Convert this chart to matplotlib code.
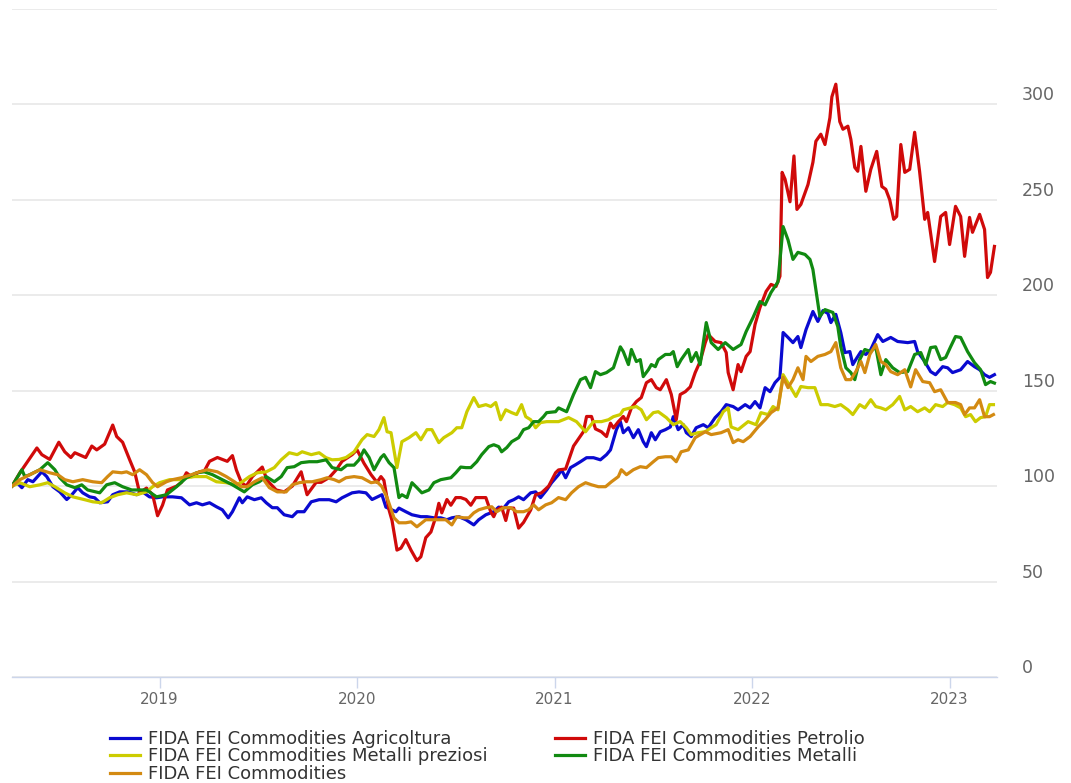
import matplotlib
matplotlib.use("Agg")
import matplotlib.pyplot as plt
from matplotlib.lines import Line2D

# (anno decimale, valore)
agricoltura = [
    (2018.253, 100), (2018.278, 101.8), (2018.303, 99.2), (2018.333, 103.4), (2018.359, 102.3),
    (2018.404, 107.5), (2018.429, 105), (2018.460, 99.7), (2018.495, 97), (2018.530, 93),
    (2018.556, 95.5), (2018.586, 99.2), (2018.611, 96.5), (2018.646, 94.4), (2018.672, 93.9),
    (2018.697, 91.3), (2018.737, 91.8), (2018.763, 95.5), (2018.798, 97), (2018.838, 97),
    (2018.884, 95.5), (2018.914, 97), (2018.949, 94.4), (2018.985, 93.9), (2019.015, 94.4),
    (2019.066, 94.4), (2019.111, 93.9), (2019.152, 90.2), (2019.187, 91.3), (2019.217, 90.2),
    (2019.253, 91.3), (2019.288, 89.2), (2019.318, 87.6), (2019.348, 83.4), (2019.369, 86.6),
    (2019.404, 93.9), (2019.419, 91.3), (2019.444, 94.4), (2019.480, 92.9), (2019.515, 93.9),
    (2019.540, 91.3), (2019.571, 88.7), (2019.596, 88.7), (2019.631, 85), (2019.672, 84),
    (2019.697, 86.6), (2019.732, 86.6), (2019.768, 91.8), (2019.808, 92.9), (2019.859, 92.9),
    (2019.894, 91.8), (2019.924, 93.9), (2019.975, 96.5), (2020.010, 97), (2020.045, 96.5),
    (2020.076, 93), (2020.126, 95.5), (2020.146, 89), (2020.197, 86.6), (2020.212, 88.5),
    (2020.247, 86.6), (2020.278, 85), (2020.323, 84), (2020.354, 84), (2020.389, 83.4),
    (2020.424, 83.4), (2020.455, 82.4), (2020.480, 83.4), (2020.515, 84), (2020.551, 82.4),
    (2020.591, 79.7), (2020.616, 82.4), (2020.652, 85), (2020.692, 86.6), (2020.717, 89),
    (2020.742, 88.5), (2020.768, 91.8), (2020.793, 92.9), (2020.818, 94.4), (2020.843, 92.9),
    (2020.879, 96.5), (2020.904, 97), (2020.929, 94), (2020.960, 98), (2020.985, 101.8),
    (2021.020, 106), (2021.035, 108.6), (2021.056, 104.4), (2021.081, 109.7), (2021.106, 111.2),
    (2021.131, 112.8), (2021.162, 114.9), (2021.197, 114.9), (2021.232, 113.8), (2021.263, 116.5),
    (2021.283, 119), (2021.313, 129.6), (2021.333, 133.8), (2021.348, 128), (2021.374, 130.6),
    (2021.399, 125.4), (2021.424, 129.6), (2021.449, 123.3), (2021.465, 120.7), (2021.490, 128),
    (2021.510, 124.3), (2021.535, 128.5), (2021.561, 129.6), (2021.586, 131), (2021.601, 136.4),
    (2021.626, 129.6), (2021.652, 132.2), (2021.667, 128), (2021.692, 126), (2021.717, 130.6),
    (2021.753, 132.2), (2021.778, 130.6), (2021.813, 135.9), (2021.843, 139), (2021.869, 142.7),
    (2021.904, 141.7), (2021.929, 140), (2021.965, 142.7), (2021.990, 141), (2022.015, 144.3),
    (2022.040, 141), (2022.066, 151.6), (2022.091, 149.5), (2022.116, 154.2), (2022.141, 157),
    (2022.157, 180.5), (2022.182, 177.9), (2022.207, 175.2), (2022.232, 178.4), (2022.247, 172.6),
    (2022.273, 182), (2022.308, 191.5), (2022.333, 186.3), (2022.359, 192), (2022.384, 190.5),
    (2022.399, 185.7), (2022.424, 190), (2022.449, 180.5), (2022.470, 170), (2022.495, 170.5),
    (2022.510, 163.7), (2022.525, 166.3), (2022.551, 170.5), (2022.576, 169), (2022.601, 171.6),
    (2022.636, 179.4), (2022.662, 175.8), (2022.702, 177.9), (2022.737, 175.8), (2022.788, 175.2),
    (2022.823, 175.8), (2022.838, 170.5), (2022.874, 165.3), (2022.904, 160), (2022.929, 158.4),
    (2022.965, 162.6), (2022.990, 162), (2023.015, 159.5), (2023.056, 161), (2023.091, 165.3),
    (2023.126, 162.6), (2023.152, 161), (2023.177, 158.4), (2023.202, 157), (2023.227, 158.4),
]

petrolio = [
    (2018.253, 100), (2018.293, 107), (2018.379, 120), (2018.404, 116.5), (2018.444, 114),
    (2018.490, 123), (2018.520, 118), (2018.551, 115), (2018.571, 117.5), (2018.626, 115),
    (2018.657, 121), (2018.682, 119), (2018.722, 122), (2018.763, 132), (2018.783, 126),
    (2018.813, 123), (2018.848, 114), (2018.874, 107.5), (2018.899, 96.5), (2018.934, 99),
    (2018.965, 95.5), (2018.990, 84.5), (2019.015, 90), (2019.040, 98), (2019.086, 100),
    (2019.111, 102), (2019.136, 107), (2019.162, 105), (2019.202, 107.5), (2019.227, 108),
    (2019.253, 113), (2019.293, 115), (2019.343, 113), (2019.369, 116), (2019.389, 108.5),
    (2019.414, 102), (2019.439, 100), (2019.470, 105), (2019.520, 110), (2019.545, 103),
    (2019.591, 98), (2019.631, 97), (2019.672, 100), (2019.717, 107.5), (2019.747, 95.5),
    (2019.793, 102), (2019.818, 102), (2019.859, 104.5), (2019.894, 108.5), (2019.924, 113),
    (2019.975, 116.5), (2020.000, 119), (2020.035, 112), (2020.071, 106), (2020.101, 102),
    (2020.121, 105), (2020.136, 103), (2020.162, 87.5), (2020.177, 82), (2020.202, 66.5),
    (2020.222, 67.5), (2020.247, 72), (2020.273, 66.5), (2020.303, 61), (2020.323, 63),
    (2020.348, 73), (2020.374, 76), (2020.399, 84), (2020.414, 91), (2020.429, 86),
    (2020.455, 93), (2020.475, 90), (2020.500, 94), (2020.525, 94), (2020.551, 93),
    (2020.576, 90), (2020.601, 94), (2020.652, 94), (2020.677, 86.5), (2020.692, 84),
    (2020.707, 87.5), (2020.732, 89), (2020.753, 82), (2020.768, 88.5), (2020.793, 88.5),
    (2020.818, 78), (2020.843, 81), (2020.879, 87.5), (2020.904, 95.5), (2020.934, 96.5),
    (2020.970, 100), (2021.005, 107), (2021.020, 108.5), (2021.056, 109), (2021.096, 121),
    (2021.146, 128.5), (2021.162, 136.5), (2021.187, 136.5), (2021.207, 130), (2021.237, 128.5),
    (2021.263, 126), (2021.283, 133), (2021.298, 130.5), (2021.323, 133.8), (2021.348, 136.5),
    (2021.364, 133.8), (2021.389, 141), (2021.414, 144.3), (2021.439, 146.4), (2021.465, 154.2),
    (2021.490, 155.8), (2021.515, 151.6), (2021.535, 150.5), (2021.566, 155.8), (2021.591, 148),
    (2021.616, 134.8), (2021.636, 148), (2021.662, 149.5), (2021.687, 152), (2021.712, 159.5),
    (2021.737, 165.3), (2021.763, 175.2), (2021.778, 179.4), (2021.813, 175.8), (2021.843, 175.2),
    (2021.869, 170), (2021.879, 159.5), (2021.904, 150.5), (2021.929, 163.7), (2021.944, 160),
    (2021.970, 168), (2021.990, 170.5), (2022.015, 184.7), (2022.040, 193.6), (2022.071, 202),
    (2022.096, 205.7), (2022.121, 204.6), (2022.141, 210), (2022.152, 264.4), (2022.167, 260.8),
    (2022.192, 249), (2022.212, 273), (2022.227, 245), (2022.247, 247.6), (2022.283, 258),
    (2022.308, 269.7), (2022.323, 280.7), (2022.348, 284.4), (2022.369, 279), (2022.394, 293),
    (2022.404, 304), (2022.424, 310.6), (2022.444, 291), (2022.460, 287), (2022.485, 288.6),
    (2022.500, 281.7), (2022.520, 267), (2022.535, 265), (2022.551, 278), (2022.576, 254.5),
    (2022.601, 266), (2022.631, 275.4), (2022.657, 257), (2022.677, 255.5), (2022.697, 250),
    (2022.717, 239.8), (2022.732, 241.3), (2022.753, 279), (2022.773, 264.4), (2022.798, 266),
    (2022.823, 285.4), (2022.848, 265), (2022.874, 239.8), (2022.889, 243.4), (2022.924, 217.7),
    (2022.955, 241.3), (2022.980, 243.4), (2023.000, 226.6), (2023.030, 246.6), (2023.056, 241.3),
    (2023.076, 220.4), (2023.101, 240.8), (2023.116, 233), (2023.152, 242.4), (2023.177, 234.5),
    (2023.192, 209.3), (2023.207, 212), (2023.227, 225.6),
]

metalli_preziosi = [
    (2018.253, 100), (2018.293, 101.8), (2018.343, 99.7), (2018.394, 100.7), (2018.434, 101.8),
    (2018.470, 99.7), (2018.520, 96.5), (2018.561, 94.4), (2018.621, 92.9), (2018.662, 91.8),
    (2018.707, 91.3), (2018.747, 93.9), (2018.788, 95.5), (2018.833, 96.5), (2018.884, 95.5),
    (2018.934, 97), (2018.965, 99.7), (2019.000, 101.8), (2019.051, 103.4), (2019.101, 103.4),
    (2019.136, 104.4), (2019.177, 105), (2019.237, 105), (2019.288, 102.3), (2019.338, 101.8),
    (2019.389, 100.7), (2019.419, 102.3), (2019.455, 105), (2019.495, 107), (2019.540, 107.5),
    (2019.581, 109.7), (2019.616, 113.8), (2019.657, 117.5), (2019.697, 116.5), (2019.722, 118),
    (2019.768, 116.5), (2019.808, 117.5), (2019.843, 114.9), (2019.874, 113.8), (2019.909, 114),
    (2019.944, 115), (2019.985, 118), (2020.025, 124.3), (2020.051, 127), (2020.086, 126),
    (2020.111, 129.6), (2020.136, 135.9), (2020.152, 128.5), (2020.172, 128), (2020.202, 109.7),
    (2020.227, 123.3), (2020.263, 125.4), (2020.298, 128), (2020.323, 124.3), (2020.354, 129.6),
    (2020.379, 129.6), (2020.414, 122.8), (2020.439, 125.4), (2020.480, 128), (2020.505, 130.6),
    (2020.530, 130.6), (2020.556, 139), (2020.591, 146.4), (2020.616, 141.7), (2020.652, 142.7),
    (2020.677, 141.7), (2020.702, 143.8), (2020.727, 134.8), (2020.753, 140), (2020.783, 138.5),
    (2020.808, 137.5), (2020.833, 142.7), (2020.854, 136.4), (2020.879, 134.8), (2020.904, 130.6),
    (2020.929, 133.3), (2020.960, 133.8), (2020.995, 133.8), (2021.020, 133.8), (2021.071, 135.9),
    (2021.111, 133.8), (2021.157, 128.5), (2021.197, 133.8), (2021.237, 133.8), (2021.273, 134.8),
    (2021.298, 136.4), (2021.333, 137.5), (2021.348, 140), (2021.384, 141), (2021.414, 141.7),
    (2021.439, 140), (2021.465, 134.8), (2021.500, 138.5), (2021.525, 139), (2021.566, 135.9),
    (2021.601, 132.2), (2021.636, 133.8), (2021.667, 130.6), (2021.692, 127), (2021.727, 128),
    (2021.763, 128.5), (2021.793, 130.6), (2021.818, 132.2), (2021.854, 139), (2021.879, 141),
    (2021.894, 131), (2021.929, 129.6), (2021.980, 133.8), (2022.020, 132.2), (2022.045, 138.5),
    (2022.081, 137.5), (2022.106, 141.7), (2022.131, 140), (2022.157, 158.4), (2022.192, 152.2),
    (2022.222, 147), (2022.247, 152.2), (2022.283, 151.6), (2022.318, 151.6), (2022.348, 142.7),
    (2022.384, 142.7), (2022.419, 141.7), (2022.449, 142.7), (2022.485, 140), (2022.510, 137.5),
    (2022.545, 142.7), (2022.571, 141), (2022.601, 145.3), (2022.626, 141.7), (2022.652, 141),
    (2022.677, 140), (2022.712, 142.7), (2022.747, 147), (2022.773, 140), (2022.803, 141.7),
    (2022.838, 139), (2022.874, 141), (2022.899, 139), (2022.929, 142.7), (2022.965, 141.7),
    (2022.990, 143.8), (2023.025, 142.7), (2023.056, 141), (2023.081, 136.4), (2023.106, 137.5),
    (2023.131, 133.8), (2023.157, 135.9), (2023.182, 136.4), (2023.202, 142.7), (2023.222, 142.7),
]

metalli = [
    (2018.253, 100), (2018.303, 108.6), (2018.318, 105), (2018.343, 106), (2018.394, 108.6),
    (2018.434, 112.3), (2018.470, 108.6), (2018.495, 104.4), (2018.530, 100.7), (2018.571, 99.2),
    (2018.606, 100.7), (2018.636, 98), (2018.697, 96.5), (2018.732, 100.7), (2018.773, 101.8),
    (2018.813, 99.7), (2018.859, 98), (2018.889, 98), (2018.934, 98), (2018.985, 94.4),
    (2019.035, 95.5), (2019.086, 99.7), (2019.136, 104.4), (2019.187, 107), (2019.227, 107.5),
    (2019.268, 106), (2019.318, 103.4), (2019.369, 100.7), (2019.429, 97), (2019.470, 100.7),
    (2019.505, 102.3), (2019.540, 105), (2019.581, 102.3), (2019.616, 105), (2019.646, 109.7),
    (2019.682, 110.2), (2019.717, 112.3), (2019.758, 112.8), (2019.798, 112.8), (2019.843, 113.8),
    (2019.874, 109.7), (2019.919, 108.6), (2019.949, 111), (2019.985, 111), (2020.010, 113.8),
    (2020.035, 119), (2020.061, 115), (2020.086, 108.6), (2020.121, 115), (2020.136, 116.5),
    (2020.162, 112.3), (2020.187, 109.7), (2020.212, 94), (2020.227, 95.5), (2020.253, 94),
    (2020.278, 101.8), (2020.303, 99.2), (2020.328, 96.5), (2020.364, 98), (2020.389, 101.8),
    (2020.424, 103.4), (2020.475, 104.4), (2020.500, 107), (2020.525, 110), (2020.551, 109.7),
    (2020.576, 109.7), (2020.606, 112.8), (2020.631, 116.5), (2020.667, 120.7), (2020.692, 121.7),
    (2020.717, 120.7), (2020.732, 118), (2020.758, 120.2), (2020.783, 123.3), (2020.818, 125.4),
    (2020.843, 129.6), (2020.869, 130.6), (2020.894, 133.8), (2020.919, 133.8), (2020.944, 136.4),
    (2020.960, 138.5), (2021.005, 139), (2021.020, 141), (2021.061, 139), (2021.096, 148),
    (2021.131, 155.8), (2021.157, 157), (2021.182, 151.6), (2021.207, 160), (2021.232, 158.4),
    (2021.263, 159.5), (2021.298, 162), (2021.333, 173), (2021.348, 170.5), (2021.374, 163.7),
    (2021.389, 171.6), (2021.414, 165.3), (2021.434, 166.3), (2021.449, 157.4), (2021.475, 161),
    (2021.490, 163.7), (2021.510, 162.6), (2021.525, 166.3), (2021.561, 169), (2021.586, 169),
    (2021.601, 170.5), (2021.621, 162.6), (2021.641, 166.3), (2021.677, 171.6), (2021.692, 165.3),
    (2021.717, 170), (2021.737, 163.7), (2021.768, 185.7), (2021.793, 175.2), (2021.828, 171.6),
    (2021.864, 175.2), (2021.904, 171.6), (2021.944, 174.2), (2021.970, 181), (2022.005, 188.4),
    (2022.040, 196.7), (2022.066, 195), (2022.096, 201.5), (2022.131, 207), (2022.157, 236),
    (2022.182, 229), (2022.207, 218.8), (2022.232, 222.5), (2022.268, 221.4), (2022.293, 218.8),
    (2022.308, 213.5), (2022.333, 196.2), (2022.343, 188.9), (2022.369, 192.5), (2022.409, 191),
    (2022.434, 183.6), (2022.449, 173.1), (2022.475, 162), (2022.500, 159.5), (2022.520, 155.8),
    (2022.545, 166.3), (2022.571, 171.6), (2022.601, 170.5), (2022.626, 173), (2022.652, 158.4),
    (2022.677, 166.3), (2022.712, 162), (2022.747, 159.5), (2022.788, 160), (2022.823, 169),
    (2022.854, 170), (2022.879, 163.7), (2022.904, 172.6), (2022.929, 173), (2022.955, 166.3),
    (2022.980, 167.4), (2023.005, 173), (2023.030, 178.4), (2023.056, 177.9), (2023.091, 170.5),
    (2023.126, 164.7), (2023.157, 161), (2023.182, 153.2), (2023.207, 154.8), (2023.227, 154),
]

commodities = [
    (2018.253, 100), (2018.293, 103.4), (2018.343, 106), (2018.394, 108.6), (2018.444, 107),
    (2018.485, 106), (2018.520, 103.4), (2018.561, 102.3), (2018.611, 103.4), (2018.662, 102.3),
    (2018.707, 101.8), (2018.737, 105), (2018.763, 107.5), (2018.808, 107), (2018.833, 107.5),
    (2018.864, 106), (2018.899, 108.6), (2018.934, 106), (2018.965, 101.8), (2018.990, 99.7),
    (2019.035, 102.3), (2019.066, 103.4), (2019.111, 104.4), (2019.162, 106), (2019.202, 107.5),
    (2019.242, 108.6), (2019.293, 107.5), (2019.338, 105), (2019.379, 102.3), (2019.414, 99.7),
    (2019.444, 99.7), (2019.480, 102.3), (2019.520, 104.4), (2019.556, 99.2), (2019.596, 97),
    (2019.641, 97), (2019.672, 100.7), (2019.707, 101.8), (2019.742, 102.3), (2019.773, 102.3),
    (2019.818, 103.4), (2019.848, 104.4), (2019.884, 103.4), (2019.909, 102.3), (2019.944, 104.4),
    (2019.985, 105), (2020.025, 104.4), (2020.071, 101.8), (2020.101, 102.3), (2020.126, 99.7),
    (2020.152, 94), (2020.187, 83.4), (2020.212, 80.8), (2020.247, 80.8), (2020.273, 81.3),
    (2020.303, 78.7), (2020.348, 82.4), (2020.379, 82.4), (2020.414, 82.4), (2020.449, 82.4),
    (2020.480, 79.7), (2020.505, 84), (2020.540, 83.4), (2020.566, 83.4), (2020.591, 86),
    (2020.616, 87.6), (2020.652, 88.7), (2020.682, 89.2), (2020.707, 86.6), (2020.742, 88.7),
    (2020.778, 88.7), (2020.808, 86.6), (2020.843, 86.6), (2020.869, 87.6), (2020.894, 90.2),
    (2020.919, 87.6), (2020.955, 90.2), (2020.985, 91.3), (2021.020, 94), (2021.056, 92.9),
    (2021.086, 96.5), (2021.121, 99.7), (2021.157, 101.8), (2021.187, 100.7), (2021.222, 99.7),
    (2021.258, 99.7), (2021.288, 102.3), (2021.323, 105), (2021.338, 108.6), (2021.364, 106),
    (2021.399, 108.6), (2021.434, 110.2), (2021.465, 109.7), (2021.500, 112.8), (2021.525, 114.9),
    (2021.561, 115.4), (2021.591, 115.4), (2021.616, 112.8), (2021.641, 118), (2021.677, 119),
    (2021.712, 125.4), (2021.763, 128.5), (2021.793, 127), (2021.843, 128), (2021.879, 129.6),
    (2021.904, 122.8), (2021.929, 124.3), (2021.955, 123.3), (2021.990, 126), (2022.030, 131),
    (2022.066, 134.8), (2022.096, 138.5), (2022.131, 141), (2022.157, 157), (2022.182, 151.6),
    (2022.207, 155.8), (2022.232, 162), (2022.258, 155.8), (2022.273, 168), (2022.298, 165.3),
    (2022.333, 168), (2022.369, 169), (2022.399, 170.5), (2022.424, 175.2), (2022.449, 162),
    (2022.475, 155.8), (2022.500, 155.8), (2022.525, 160), (2022.551, 165.3), (2022.571, 159.5),
    (2022.596, 169), (2022.626, 174.2), (2022.652, 165.3), (2022.677, 163.7), (2022.702, 160),
    (2022.737, 158.4), (2022.773, 161), (2022.803, 152), (2022.828, 161), (2022.864, 154.8),
    (2022.899, 154.2), (2022.924, 149.5), (2022.955, 150.5), (2022.990, 143.8), (2023.030, 143.8),
    (2023.056, 142.7), (2023.076, 137.5), (2023.101, 141), (2023.126, 141), (2023.152, 145.3),
    (2023.177, 136.4), (2023.202, 136.4), (2023.222, 137.5),
]

series = [
    ("FIDA FEI Commodities Agricoltura", agricoltura, "#0a0ad0"),
    ("FIDA FEI Commodities Petrolio", petrolio, "#d00a0a"),
    ("FIDA FEI Commodities Metalli preziosi", metalli_preziosi, "#cccc00"),
    ("FIDA FEI Commodities Metalli", metalli, "#118a11"),
    ("FIDA FEI Commodities", commodities, "#d38a12"),
]

year_ticks = [2019, 2020, 2021, 2022, 2023]
y_ticks = [0, 50, 100, 150, 200, 250, 300, 350]

W, H = 1071, 783
fig = plt.figure(figsize=(W / 100, H / 100), dpi=100)
ax = fig.add_axes([12 / W, 106 / H, 985 / W, 668 / H])

for name, data, color in series:
    t, v = zip(*data)
    ax.plot(t, v, color=color, lw=2.3, solid_joinstyle="round", label=name)

ax.set_xlim(2018.253, 2023.24)
ax.set_ylim(0, 350)

# griglia orizzontale
ax.set_yticks(y_ticks)
ax.yaxis.grid(True, color="#e6e6e6", lw=1.1)
ax.set_axisbelow(True)
ax.yaxis.tick_right()
ax.tick_params(axis="y", length=0, pad=18, labelsize=12.5, labelcolor="#666666")
ax.set_yticklabels([str(y) if y < 350 else "" for y in y_ticks])
for lab in ax.get_yticklabels():
    lab.set_verticalalignment("bottom")

ax.set_xticks(year_ticks)
ax.set_xticklabels([str(y) for y in year_ticks])
ax.tick_params(axis="x", length=8, width=1, color="#ccd6eb", pad=3,
               labelsize=11, labelcolor="#666666")

for s in ["top", "left", "right"]:
    ax.spines[s].set_visible(False)
ax.spines["bottom"].set_color("#ccd6eb")
ax.spines["bottom"].set_linewidth(1)

# legenda su due colonne
def handle(color):
    return Line2D([0], [0], color=color, lw=2.3)

col1 = [series[0], series[2], series[4]]
col2 = [series[1], series[3]]
for cols, x0 in [(col1, 110), (col2, 555)]:
    fig.legend([handle(c) for _, _, c in cols], [n for n, _, _ in cols],
               loc="upper left", bbox_to_anchor=(x0 / W, 53 / H),
               frameon=False, fontsize=13, handlelength=1.65, handletextpad=0.45,
               labelspacing=-0.03, borderpad=0, borderaxespad=0,
               labelcolor="#333333")

fig.savefig("out.png", dpi=100, facecolor="white")
